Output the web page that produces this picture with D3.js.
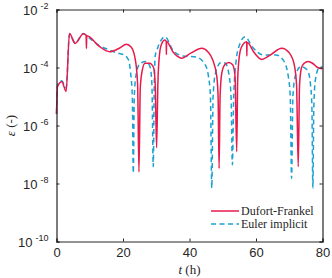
<!DOCTYPE html>
<html>
<head>
<meta charset="utf-8">
<script src="https://cdn.jsdelivr.net/npm/d3@7"></script>
<style>
body { margin: 0; background: #fff; }
</style>
</head>
<body>
<div id="chart"></div>
<script>
// Dufort-Frankel (red, solid)
var tDF = [0, 0.3, 1.6, 2.9, 3.9, 5.6, 8.1, 8.9, 9.0, 9.1, 13, 16, 19, 21, 22.5, 23.8, 24.4, 24.8, 25.2, 25.8, 26.6, 28, 29.2, 29.7, 30.1, 30.5, 31.0, 31.5, 32.6, 33.0, 33.05, 33.1, 35, 37.7, 40.5, 43.7, 45.5, 47, 48.2, 48.6, 48.9, 49.2, 49.7, 50.6, 51.8, 53, 53.7, 54.2, 54.5, 55, 55.6, 57.2, 57.25, 57.3, 59.5, 61.7, 64.5, 67.7, 70, 71.5, 72.2, 72.7, 73.1, 73.7, 74.5, 75.7, 77, 78.5, 80];
var epsDF = [2.5e-6, 2.2e-5, 3.2e-5, 1.5e-5, 1.5e-3, 6.8e-4, 1.45e-3, 1.3e-3, 4.5e-4, 1.25e-3, 5.2e-4, 3.5e-4, 4.7e-4, 6.3e-4, 5e-4, 1.6e-4, 2.5e-5, 2.5e-8, 2e-5, 8e-5, 1.4e-4, 1.4e-4, 1e-4, 2.5e-5, 1.7e-7, 3e-5, 3e-4, 6e-4, 8.9e-4, 8e-4, 2.8e-4, 7.9e-4, 3.5e-4, 2.1e-4, 3.2e-4, 4.6e-4, 3.5e-4, 1.8e-4, 5e-5, 1e-5, 3.3e-8, 1e-5, 6.3e-5, 1.25e-4, 1.5e-4, 1.25e-4, 5e-5, 1.25e-7, 4e-5, 2.5e-4, 5e-4, 7.8e-4, 2.5e-4, 7.4e-4, 3.2e-4, 1.9e-4, 2.8e-4, 4.6e-4, 3.2e-4, 1.25e-4, 2.5e-5, 3.8e-8, 2.5e-5, 1e-4, 1.4e-4, 1.6e-4, 1.4e-4, 1e-4, 9e-5];

// Euler implicit (blue, dashed)
var tEI = [0, 0.3, 1.6, 2.9, 3.9, 5.6, 8.1, 9, 13, 16, 18, 20, 21.5, 22.3, 22.8, 23.1, 23.4, 24, 25.2, 27, 28.2, 28.7, 29.1, 29.4, 29.7, 30.5, 32.6, 35, 38, 42, 44.7, 45.7, 46.3, 46.7, 47.1, 47.8, 49.5, 50.8, 51.8, 52.5, 52.9, 53.3, 54, 54.8, 56.7, 59, 62.2, 66, 68.2, 69.7, 70.3, 70.7, 71.1, 71.8, 73.5, 75.5, 76.4, 76.8, 77.1, 77.4, 77.9, 79, 80];
var epsEI = [2.5e-6, 2.5e-5, 3.5e-5, 2e-5, 1.4e-3, 7e-4, 1.5e-3, 1.25e-3, 5.6e-4, 4e-4, 3.2e-4, 2.8e-4, 2e-4, 6.3e-5, 1e-5, 2.3e-8, 1e-5, 6.3e-5, 1.4e-4, 1.6e-4, 1e-4, 2.5e-5, 3.8e-8, 2.5e-5, 2.5e-4, 5e-4, 1.15e-3, 4e-4, 2.5e-4, 2.3e-4, 1.25e-4, 5e-5, 1e-5, 7e-9, 1e-5, 6.3e-5, 1.5e-4, 1.4e-4, 6.3e-5, 1e-5, 4.4e-8, 1e-5, 1.6e-4, 5e-4, 1.15e-3, 5e-4, 2.7e-4, 2.7e-4, 1.8e-4, 5e-5, 1e-5, 1.5e-8, 1e-5, 5e-5, 1.07e-4, 8e-5, 2.5e-5, 5e-6, 7e-9, 5e-6, 4e-5, 1e-4, 1.07e-4];

var xTicks = [0, 20, 40, 60, 80];
var yExps = [-2, -4, -6, -8, -10];
var seriesNames = ["Dufort-Frankel", "Euler implicit"];

var W = 332, H = 278;
var margin = {top: 9.5, right: 9.5, bottom: 36.5, left: 56.5};
var width = W - margin.left - margin.right,
    height = H - margin.top - margin.bottom;

var svg = d3.select("#chart").append("svg")
    .attr("width", W)
    .attr("height", H);
var g = svg.append("g")
    .attr("transform", "translate(" + margin.left + "," + margin.top + ")");

var x = d3.scaleLinear().domain([0, 80]).range([0, width]);
var y = d3.scaleLog().domain([1e-10, 1e-2]).range([height, 0]);

var red = "#e8194b", blue = "#1ba1d2", axisCol = "#262626";

// lines
var line = d3.line()
    .x(function(d) { return x(d[0]); })
    .y(function(d) { return y(d[1]); })
    .curve(d3.curveMonotoneX);

var dataDF = tDF.map(function(t, i) { return [t, epsDF[i]]; });
var dataEI = tEI.map(function(t, i) { return [t, epsEI[i]]; });

g.append("path")
    .datum(dataEI)
    .attr("d", line)
    .attr("fill", "none")
    .attr("stroke", blue)
    .attr("stroke-width", 1.5)
    .attr("stroke-dasharray", "5,3.5");

g.append("path")
    .datum(dataDF)
    .attr("d", line)
    .attr("fill", "none")
    .attr("stroke", red)
    .attr("stroke-width", 1.5);

// box + ticks
var yTickVals = yExps.map(function(e) { return Math.pow(10, e); });

var xAxis = g.append("g").attr("transform", "translate(0," + height + ")")
    .call(d3.axisBottom(x).tickValues(xTicks).tickSize(-3).tickPadding(6));
var xTop = g.append("g")
    .call(d3.axisTop(x).tickValues(xTicks).tickSize(-3).tickFormat(""));
var yAxis = g.append("g")
    .call(d3.axisLeft(y).tickValues(yTickVals).tickSize(-3).tickFormat(""));
var yRight = g.append("g").attr("transform", "translate(" + width + ",0)")
    .call(d3.axisRight(y).tickValues(yTickVals).tickSize(-3).tickFormat(""));

[xAxis, xTop, yAxis, yRight].forEach(function(a) {
    a.select(".domain").attr("stroke", axisCol).attr("stroke-width", 1.2);
    a.selectAll(".tick line").attr("stroke", axisCol).attr("stroke-width", 1);
});
xAxis.selectAll(".tick text")
    .attr("font-family", "Liberation Sans, Arial, sans-serif")
    .attr("font-size", 13)
    .attr("fill", "#262626");

// y tick labels 10^n
var ylab = g.selectAll(".ylab")
    .data(yExps)
    .enter()
    .append("text")
    .attr("class", "ylab")
    .attr("x", -8)
    .attr("y", function(d) { return y(Math.pow(10, d)) + 5; })
    .attr("text-anchor", "end")
    .attr("font-family", "Liberation Sans, Arial, sans-serif")
    .attr("font-size", 13)
    .attr("fill", "#262626");
ylab.append("tspan").text("10");
ylab.append("tspan")
    .attr("dx", 3)
    .attr("dy", -6)
    .attr("font-size", 9)
    .text(function(d) { return d; });

// axis titles
svg.append("text")
    .attr("x", margin.left + width / 2)
    .attr("y", 274)
    .attr("text-anchor", "middle")
    .attr("font-family", "Liberation Serif, serif")
    .attr("font-size", 13)
    .attr("fill", "#262626")
    .html('<tspan font-style="italic">t</tspan> (h)');

svg.append("text")
    .attr("transform", "translate(15," + (margin.top + height / 2) + ") rotate(-90)")
    .attr("text-anchor", "middle")
    .attr("font-family", "Liberation Serif, serif")
    .attr("font-size", 13)
    .attr("fill", "#262626")
    .html('<tspan font-style="italic">ε</tspan> (-)');

// legend
var legend = svg.selectAll(".leg")
    .data(seriesNames)
    .enter()
    .append("g")
    .attr("class", "leg")
    .attr("transform", function(d, i) { return "translate(211," + (211 + i * 13) + ")"; });

legend.append("line")
    .attr("x1", 0).attr("x2", 28)
    .attr("y1", 0).attr("y2", 0)
    .attr("stroke", function(d, i) { return i == 0 ? red : blue; })
    .attr("stroke-width", 1.5)
    .attr("stroke-dasharray", function(d, i) { return i == 0 ? null : "5,3.5"; });

legend.append("text")
    .attr("x", 30)
    .attr("y", 4)
    .attr("font-family", "Liberation Serif, serif")
    .attr("font-size", 12)
    .attr("fill", "#262626")
    .text(function(d) { return d; });
</script>
</body>
</html>
